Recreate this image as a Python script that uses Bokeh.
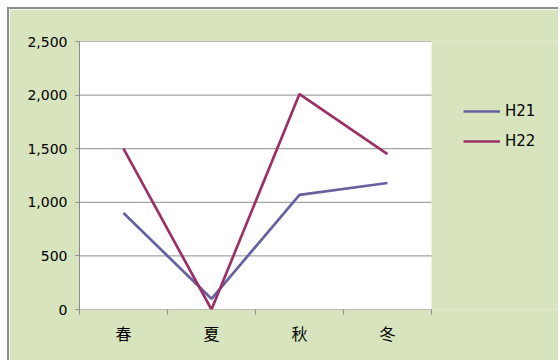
from bokeh.plotting import figure
from bokeh.models import FixedTicker, Legend, LegendItem, NumeralTickFormatter, Range1d
from bokeh.embed import file_html
from bokeh.resources import INLINE

categories = ["春", "夏", "秋", "冬"]
h21 = [900, 100, 1070, 1180]
h22 = [1500, 0, 2010, 1450]
y_ticks = [0, 500, 1000, 1500, 2000, 2500]

n = len(categories)
xs = [i + 0.5 for i in range(n)]

GREEN = "#d7e4bd"
GRAY = "#8c8c8c"

# frame spans to the right edge; the white plot area is drawn over 0..n
p = figure(width=551, height=353, output_backend="svg", toolbar_location=None,
           x_range=Range1d(0, 481 / 88), y_range=Range1d(0, y_ticks[-1]),
           min_border_left=70, min_border_top=32, min_border_right=0, min_border_bottom=53)
p.margin = (0, 0, 0, 0)
p.styles = {"margin-top": "7px", "margin-left": "7px",
            "border-top": "2px solid " + GRAY, "border-left": "2px solid " + GRAY}
p.background_fill_color = GREEN
p.border_fill_color = GREEN
p.outline_line_color = None

# white plot area and horizontal grid lines
p.quad(left=0, right=n, bottom=y_ticks[0], top=y_ticks[-1], fill_color="white", line_color=None)
p.segment(x0=[0] * len(y_ticks), x1=[n] * len(y_ticks), y0=y_ticks, y1=y_ticks,
          line_color=GRAY, line_width=1)

r1 = p.line(xs, h21, line_color="#66619f", line_width=2.7)
r2 = p.line(xs, h22, line_color="#9a3065", line_width=2.7)

# x axis
p.xaxis.ticker = FixedTicker(ticks=xs, minor_ticks=list(range(n + 1)))
p.xaxis.major_label_overrides = {x: c for x, c in zip(xs, categories)}
p.xaxis.major_tick_out = 0
p.xaxis.major_tick_in = 0
p.xaxis.minor_tick_out = 5
p.xaxis.minor_tick_in = 0
p.xaxis.minor_tick_line_color = GRAY
p.xaxis.axis_line_color = None
p.xaxis.major_label_text_font = "Noto Sans CJK JP"
p.xaxis.major_label_text_font_size = "16px"
p.xaxis.major_label_text_color = "black"
p.xaxis.major_label_standoff = 6

# y axis
p.yaxis.ticker = FixedTicker(ticks=y_ticks, minor_ticks=[])
p.yaxis.formatter = NumeralTickFormatter(format="0,0")
p.yaxis.major_tick_out = 4
p.yaxis.major_tick_in = 0
p.yaxis.major_tick_line_color = GRAY
p.yaxis.axis_line_color = GRAY
p.yaxis.major_label_text_font = "DejaVu Sans"
p.yaxis.major_label_text_font_size = "14px"
p.yaxis.major_label_text_color = "black"
p.yaxis.major_label_standoff = 8

p.xgrid.grid_line_color = None
p.ygrid.grid_line_color = None

legend = Legend(items=[LegendItem(label="H21", renderers=[r1]),
                       LegendItem(label="H22", renderers=[r2])],
                location=(384, 158), orientation="vertical")
legend.background_fill_alpha = 0
legend.border_line_color = None
legend.padding = 0
legend.margin = 0
legend.glyph_width = 37
legend.glyph_height = 20
legend.spacing = 10
legend.label_standoff = 5
legend.label_text_font = "DejaVu Sans"
legend.label_text_font_size = "15px"
legend.label_text_color = "black"
legend.label_height = 20
p.add_layout(legend, "center")

open("out.html", "w").write(file_html(p, INLINE))
